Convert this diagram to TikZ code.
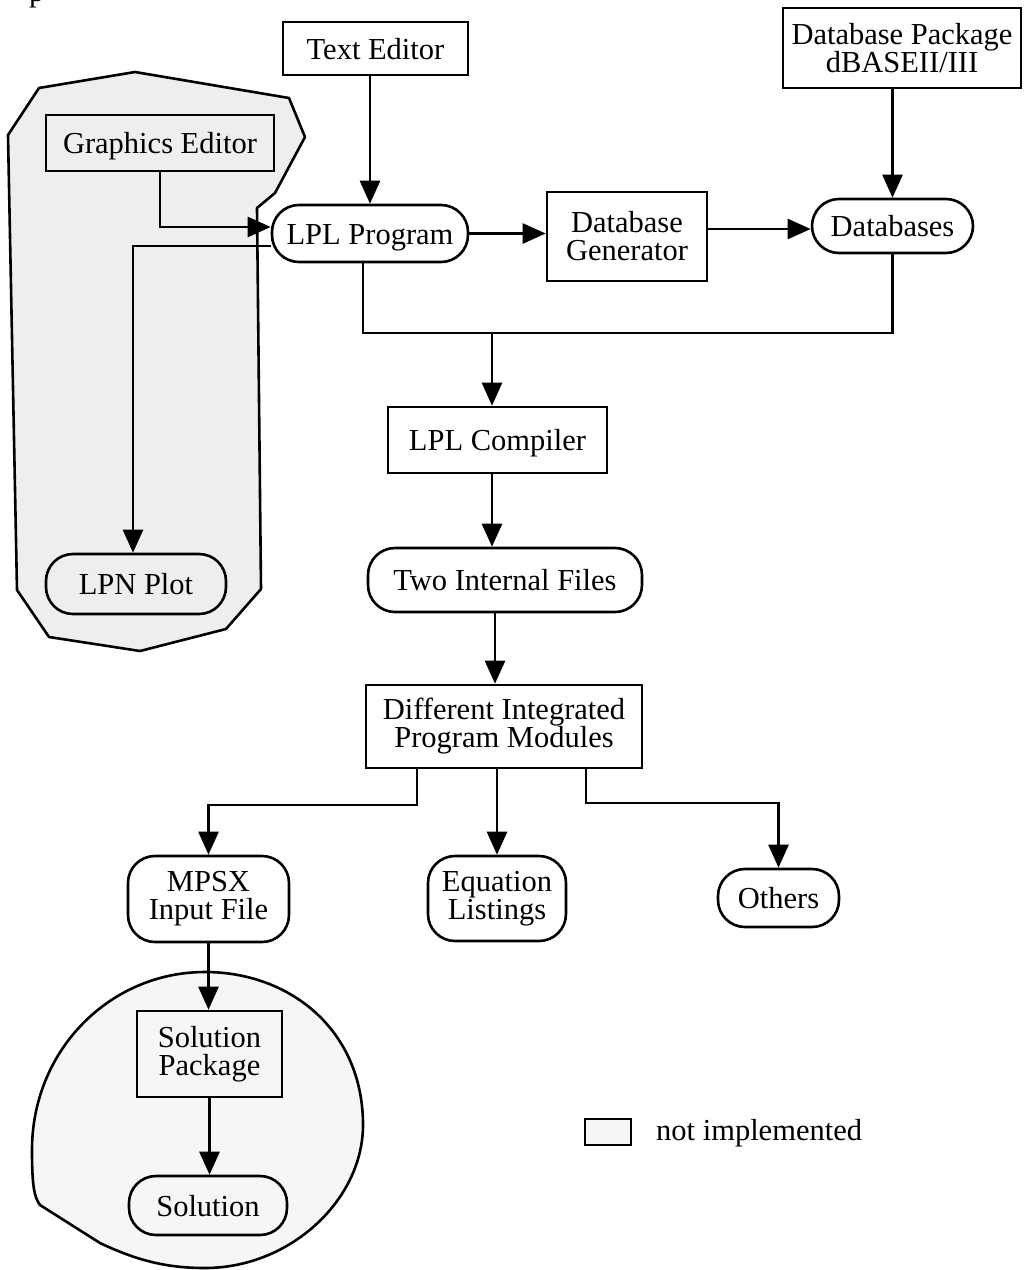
\documentclass[tikz,border=0pt]{standalone}
\usepackage{fontspec}
\setmainfont{Liberation Serif}
\usetikzlibrary{arrows.meta,calc}
\definecolor{polyfill}{gray}{0.933}
\definecolor{blobfill}{gray}{0.965}
\begin{document}
\begin{tikzpicture}[x=1pt,y=-1pt,
  lw/.style={line width=2.6pt},
  txt/.style={font=\fontsize{30.5}{28}\selectfont},
  base/.style={draw, lw, inner sep=0pt, align=center, txt},
  sqbox/.style={base, fill=white},
  rbox/.style={base, fill=white, rounded corners=27pt},
  rnofill/.style={base, rounded corners=27pt},
  sl/.style={text height=21pt, text depth=0pt},
  arr/.style={lw, -{Triangle[length=23pt,width=20pt]}},
  con/.style={lw},
]
\useasboundingbox (0,0) rectangle (1027,1270);

% not-implemented regions
\draw[lw, fill=polyfill, line join=round] (8,135) -- (39,88) -- (135,72) -- (289,98) -- (305,137)
  -- (275,193) -- (257,208) -- (261,589) -- (226,629) -- (140,651) -- (49,637) -- (17,590) -- cycle;
\draw[lw, fill=blobfill] (40,1205) -- (100,1243) .. controls (140,1262) and (170,1268) .. (205,1268)
  .. controls (290,1268) and (363,1200) .. (363,1125)
  .. controls (363,1030) and (290,972) .. (205,972)
  .. controls (110,972) and (32,1050) .. (32,1150)
  .. controls (32,1185) and (34,1197) .. (40,1205) -- cycle;

% fragment of text at the top edge
\node[anchor=base west, inner sep=0pt, txt] (pg) at (29,1) {p};

% nodes
\node[sqbox, sl, minimum width=185pt, minimum height=53pt] (te) at (375.5,48.5) {Text Editor};
\node[sqbox, minimum width=238pt, minimum height=80pt] (dbp) at (902,48) {Database Package\\dBASEII/III};
\node[base, sl, minimum width=228pt, minimum height=56pt] (ge) at (160,143) {Graphics Editor};
\node[rbox, sl, minimum width=196pt, minimum height=57pt] (lpl) at (370,233.5) {LPL Program};
\node[sqbox, minimum width=160pt, minimum height=89pt] (dg) at (627,236.5) {Database\\Generator};
\node[rbox, sl, minimum width=161pt, minimum height=54pt] (db) at (892.5,226) {Databases};
\node[sqbox, sl, minimum width=219pt, minimum height=66pt] (comp) at (497.5,440) {LPL Compiler};
\node[rbox, sl, minimum width=274pt, minimum height=64pt] (tif) at (505,580) {Two Internal Files};
\node[sqbox, minimum width=276pt, minimum height=83pt] (dipm) at (504,726.5) {Different Integrated\\Program Modules};
\node[rnofill, sl, minimum width=180pt, minimum height=60pt] (lpn) at (136,584) {LPN Plot};
\node[rbox, minimum width=161pt, minimum height=86pt] (mpsx) at (208.5,899) {MPSX\\Input File};
\node[rbox, minimum width=138pt, minimum height=85pt] (eq) at (497,898.5) {Equation\\Listings};
\node[rbox, sl, minimum width=121pt, minimum height=58pt] (oth) at (778.5,898) {Others};
\node[base, minimum width=145pt, minimum height=86pt] (sp) at (209.5,1054) {Solution\\Package};
\node[rnofill, sl, minimum width=158pt, minimum height=59pt] (sol) at (208,1205.5) {Solution};

% legend
\node[draw, lw, fill=blobfill, minimum width=46pt, minimum height=26pt, inner sep=0pt] (leg) at (608,1132) {};
\node[anchor=west, inner sep=0pt, txt, sl] (legt) at (656,1130) {not implemented};

% helper coordinates
\coordinate (jn) at (492,333);
\coordinate (c495) at (495,0);
\coordinate (m1) at (417,805);
\coordinate (o1) at (586,803);

% connectors
\draw[arr] (lpl.north |- te.south) -- (lpl.north);
\draw[arr] (db.north |- dbp.south) -- (db.north);
\draw[arr] (ge.south) |- ($(lpl.west)+(0,-6.5)$);
\draw[arr] ($(lpl.west)+(0,12.5)$) -| ($(lpn.north)+(-3,0)$);
\draw[arr] (lpl.east) -- (lpl.east -| dg.west);
\coordinate (dge) at ($(dg.east)+(0,-7.5)$);
\draw[arr] (dge) -- (dge -| db.west);
\draw[con] ($(lpl.south)+(-7,0)$) |- (jn) -| (db.south);
\draw[arr] (jn) -- (jn |- comp.north);
\draw[arr] (jn |- comp.south) -- (jn |- tif.north);
\draw[arr] (tif.south -| c495) -- (dipm.north -| c495);
\draw[arr] (dipm.south -| m1) -- (m1) -| (mpsx.north);
\draw[arr] (dipm.south -| eq.north) -- (eq.north);
\draw[arr] (dipm.south -| o1) -- (o1) -| (oth.north);
\draw[arr] (mpsx.south) -- (mpsx.south |- sp.north);
\draw[arr] (sp.south) -- (sp.south |- sol.north);
\end{tikzpicture}
\end{document}
